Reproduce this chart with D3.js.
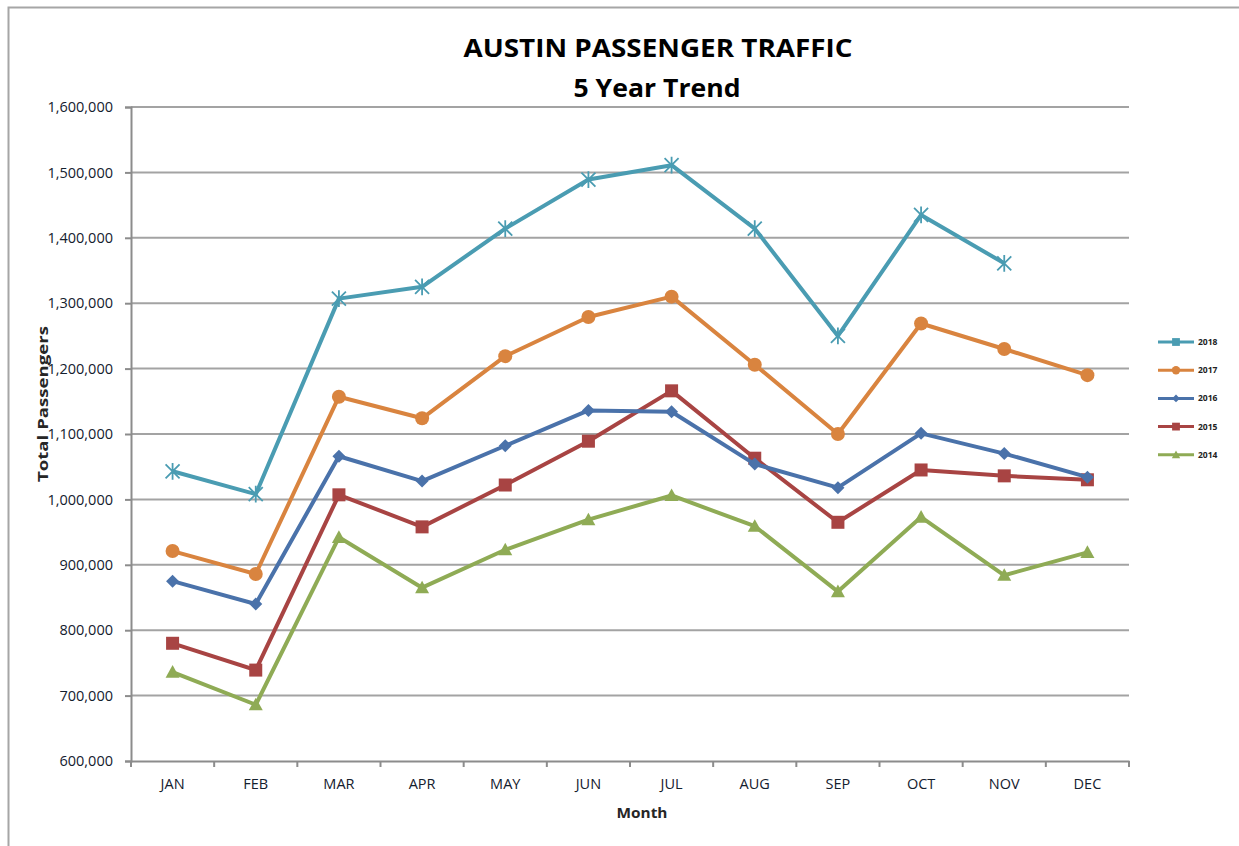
<!DOCTYPE html>
<html>
<head>
<meta charset="utf-8">
<script src="https://cdn.jsdelivr.net/npm/d3@7"></script>
<style>
  html, body { margin: 0; padding: 0; background: #fff; }
  svg { display: block; }
  text { font-family: "Open Sans", Lato, sans-serif; }
</style>
</head>
<body>
<script>
const months = ["JAN","FEB","MAR","APR","MAY","JUN","JUL","AUG","SEP","OCT","NOV","DEC"];
const yearNames = ["2018","2017","2016","2015","2014"];
const v2018 = [1043000,1008000,1307000,1325000,1414000,1489000,1511000,1414000,1250000,1435000,1361000,null];
const v2017 = [921000,886000,1157000,1124000,1219000,1279000,1310000,1206000,1100000,1269000,1230000,1190000];
const v2016 = [875000,840000,1066000,1028000,1082000,1136000,1134000,1054000,1018000,1101000,1070000,1034000];
const v2015 = [780000,739000,1007000,958000,1022000,1089000,1166000,1063000,965000,1045000,1036000,1030000];
const v2014 = [736000,686000,942000,865000,923000,969000,1006000,959000,859000,973000,884000,919000];
const yTicks = [600000,700000,800000,900000,1000000,1100000,1200000,1300000,1400000,1500000,1600000];
const colors = ["#4a9cb2","#d9843f","#4a72aa","#a84443","#8fab55"];
const markers = ["star","circle","diamond","square","triangle"];
const legendMarkers = ["square","circle","diamond","square","triangle"];

const seriesValues = [v2018, v2017, v2016, v2015, v2014];
const series = yearNames.map((name, i) => ({
  name, color: colors[i], marker: markers[i], legendMarker: legendMarkers[i],
  values: months.map((m, j) => ({ m, v: seriesValues[i][j] }))
}));

const W = 1239, H = 846;
const plot = { left: 131, right: 1129, top: 107, bottom: 761 };

const svg = d3.select("body").append("svg").attr("width", W).attr("height", H);

// outer frame
svg.append("path").attr("d", `M8.5,${H+5}V7.5H${W+5}`).attr("fill","none")
  .attr("stroke","#a6a6a6").attr("stroke-width",2);

const x = d3.scaleBand().domain(months).range([plot.left, plot.right]);
const y = d3.scaleLinear().domain([600000,1600000]).range([plot.bottom, plot.top]);

// gridlines
svg.append("g").selectAll("line").data(yTicks.slice(1)).join("line")
  .attr("x1", plot.left).attr("x2", plot.right)
  .attr("y1", d => y(d)).attr("y2", d => y(d))
  .attr("stroke","#a3a3a3").attr("stroke-width",2);

const fmt = d3.format(",");
// y axis
const yAxis = svg.append("g").attr("transform",`translate(${plot.left},0)`)
  .call(d3.axisLeft(y).tickValues(yTicks).tickFormat(fmt).tickSize(6).tickPadding(12));
yAxis.select(".domain").attr("stroke","#8c8c8c").attr("stroke-width",2);
yAxis.selectAll(".tick line").attr("stroke","#8c8c8c").attr("stroke-width",2);
yAxis.selectAll(".tick text").attr("font-size",14.5).attr("fill","#14202e")
  .attr("font-family","'Open Sans', sans-serif");

// x axis
const xAxis = svg.append("g").attr("transform",`translate(0,${plot.bottom})`)
  .call(d3.axisBottom(x).tickSize(0).tickPadding(18));
xAxis.select(".domain").attr("stroke","#8c8c8c").attr("stroke-width",2);
xAxis.selectAll(".tick text").attr("font-size",14.5).attr("fill","#14202e")
  .attr("font-family","'Open Sans', sans-serif");
// x ticks at band boundaries
const bounds = months.map(m => x(m)).concat([plot.right]);
xAxis.append("g").selectAll("line").data(bounds).join("line")
  .attr("x1", d => d).attr("x2", d => d).attr("y1", 0).attr("y2", 6)
  .attr("stroke","#8c8c8c").attr("stroke-width",2);

// titles
svg.append("text").attr("x", 658).attr("y", 57).attr("text-anchor","middle")
  .attr("font-size",25).attr("font-weight","bold").attr("fill","#000")
  .attr("textLength",389).attr("lengthAdjust","spacingAndGlyphs")
  .text("AUSTIN PASSENGER TRAFFIC");
svg.append("text").attr("x", 657).attr("y", 97).attr("text-anchor","middle")
  .attr("font-size",25).attr("font-weight","bold").attr("fill","#000")
  .attr("textLength",167).attr("lengthAdjust","spacingAndGlyphs")
  .text("5 Year Trend");
svg.append("text").attr("x", 642).attr("y", 818).attr("text-anchor","middle")
  .attr("font-size",15).attr("font-weight","bold").attr("fill","#262626")
  .attr("textLength",51).attr("lengthAdjust","spacingAndGlyphs").text("Month");
svg.append("text").attr("transform","translate(48,404) rotate(-90)").attr("text-anchor","middle")
  .attr("font-size",15).attr("font-weight","bold").attr("fill","#262626")
  .attr("textLength",156).attr("lengthAdjust","spacingAndGlyphs").text("Total Passengers");

function drawMarker(g, type, color, s) {
  if (type === "circle") {
    g.append("circle").attr("r", 7*s).attr("fill", color);
  } else if (type === "diamond") {
    const h = 6.5*s;
    g.append("path").attr("d", `M0,${-h}L${h},0L0,${h}L${-h},0Z`).attr("fill", color);
  } else if (type === "square") {
    const h = 6.5*s;
    g.append("rect").attr("x",-h).attr("y",-h).attr("width",2*h).attr("height",2*h).attr("fill", color);
  } else if (type === "triangle") {
    const h = 7*s;
    g.append("path").attr("d", `M0,${-h}L${h},${h*0.8}L${-h},${h*0.8}Z`).attr("fill", color);
  } else if (type === "star") {
    const r = 7*s;
    g.append("path").attr("d", `M${-r},${-r}L${r},${r}M${-r},${r}L${r},${-r}M0,${-r*1.2}V${r*1.2}`)
      .attr("stroke", color).attr("stroke-width", 1.8).attr("fill","none");
  }
}

const line = d3.line().defined(d => d.v != null)
  .x(d => x(d.m) + x.bandwidth()/2).y(d => y(d.v));

// draw in reverse so 2018 on top
series.slice().reverse().forEach(s => {
  const g = svg.append("g");
  g.append("path").datum(s.values).attr("d", line).attr("fill","none")
    .attr("stroke", s.color).attr("stroke-width", 4).attr("stroke-linejoin","round");
  s.values.filter(d => d.v != null).forEach(d => {
    const mg = g.append("g").attr("transform", `translate(${x(d.m)+x.bandwidth()/2},${y(d.v)})`);
    drawMarker(mg, s.marker, s.color, 1);
  });
});

// legend
const legend = svg.append("g");
series.forEach((s, i) => {
  const ly = 342 + i*28.2;
  const g = legend.append("g").attr("transform", `translate(0,${ly})`);
  g.append("line").attr("x1",1158).attr("x2",1194).attr("y1",0).attr("y2",0)
    .attr("stroke", s.color).attr("stroke-width",3);
  const mg = g.append("g").attr("transform","translate(1176,0)");
  drawMarker(mg, s.legendMarker, s.color, 0.6);
  g.append("text").attr("x",1198).attr("y",3).attr("font-size",8.5).attr("font-weight","bold")
    .attr("fill","#222").text(s.name);
});
</script>
</body>
</html>
